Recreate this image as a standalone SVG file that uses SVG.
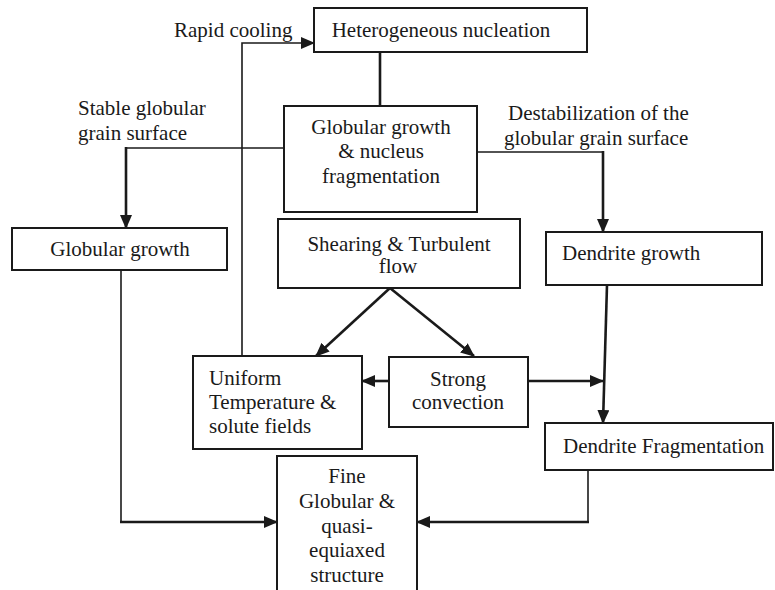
<svg xmlns="http://www.w3.org/2000/svg" width="775" height="590" viewBox="0 0 775 590">
<style>
text{font-family:"Liberation Serif","Times New Roman",serif;font-size:21px;fill:#1a1a1a}
.c{text-anchor:middle}
.box{fill:#fff;stroke:#1a1a1a;stroke-width:2}
.ln{fill:none;stroke:#1a1a1a;stroke-width:1.6}
.thk{fill:none;stroke:#1a1a1a;stroke-width:2.6}
</style>
<defs>
<marker id="ah" markerUnits="userSpaceOnUse" markerWidth="14" markerHeight="12" refX="13" refY="6" orient="auto" viewBox="0 0 14 12">
<path d="M0,0 L14,6 L0,12 z" fill="#1a1a1a"/>
</marker>
</defs>
<rect width="775" height="590" fill="#fff"/>
<g id="connectors">
<polyline class="ln" points="242,356 242,43 314,43" marker-end="url(#ah)"/>
<line class="thk" x1="380" y1="52" x2="380" y2="106"/>
<polyline class="ln" points="285,148 126,148"/>
<line class="thk" x1="126" y1="147" x2="126" y2="228" marker-end="url(#ah)"/>
<polyline class="ln" points="477,152 603,152"/>
<line class="thk" x1="603" y1="151" x2="603" y2="232" marker-end="url(#ah)"/>
<line class="thk" x1="390" y1="288" x2="316" y2="356" marker-end="url(#ah)"/>
<line class="thk" x1="390" y1="288" x2="474" y2="356" marker-end="url(#ah)"/>
<line class="thk" x1="389" y1="381" x2="362" y2="381" marker-end="url(#ah)"/>
<line class="thk" x1="528" y1="381" x2="603" y2="381" marker-end="url(#ah)"/>
<line class="thk" x1="607" y1="285" x2="603" y2="423" marker-end="url(#ah)"/>
<line class="ln" x1="121" y1="270" x2="121" y2="523"/>
<line class="thk" x1="120" y1="522" x2="277" y2="522" marker-end="url(#ah)"/>
<line class="ln" x1="588" y1="470" x2="588" y2="523"/>
<line class="thk" x1="589" y1="522" x2="417" y2="522" marker-end="url(#ah)"/>
</g>
<g id="labels">
<text x="174" y="37">Rapid cooling</text>
<text x="78" y="115">Stable globular</text>
<text x="78" y="140">grain surface</text>
<text x="508" y="120">Destabilization of the</text>
<text x="504" y="145">globular grain surface</text>
</g>
<g id="heterogeneous-nucleation">
<rect class="box" x="314" y="8" width="273" height="44"/>
<text class="c" x="441" y="37">Heterogeneous nucleation</text>
</g>
<g id="globular-growth-nucleus-fragmentation">
<rect class="box" x="284" y="106" width="193" height="106"/>
<text class="c" x="381" y="134">Globular growth</text>
<text class="c" x="381" y="158">&amp; nucleus</text>
<text class="c" x="381" y="183">fragmentation</text>
</g>
<g id="globular-growth">
<rect class="box" x="12" y="228" width="215" height="42"/>
<text class="c" x="120" y="256">Globular growth</text>
</g>
<g id="shearing-turbulent-flow">
<rect class="box" x="278" y="219" width="242" height="69"/>
<text class="c" x="399" y="251">Shearing &amp; Turbulent</text>
<text class="c" x="398" y="273">flow</text>
</g>
<g id="dendrite-growth">
<rect class="box" x="546" y="232" width="216" height="53"/>
<text x="562" y="260">Dendrite growth</text>
</g>
<g id="uniform-temperature">
<rect class="box" x="193" y="356" width="169" height="93"/>
<text x="209" y="385">Uniform</text>
<text x="209" y="409">Temperature &amp;</text>
<text x="209" y="433">solute fields</text>
</g>
<g id="strong-convection">
<rect class="box" x="389" y="357" width="139" height="70"/>
<text class="c" x="458" y="386">Strong</text>
<text class="c" x="458" y="409">convection</text>
</g>
<g id="dendrite-fragmentation">
<rect class="box" x="545" y="423" width="228" height="47"/>
<text x="563" y="453">Dendrite Fragmentation</text>
</g>
<g id="fine-globular-structure">
<rect class="box" x="277" y="456" width="140" height="140"/>
<text class="c" x="347" y="483">Fine</text>
<text class="c" x="347" y="508">Globular &amp;</text>
<text class="c" x="347" y="533">quasi-</text>
<text class="c" x="347" y="557">equiaxed</text>
<text class="c" x="347" y="582">structure</text>
</g>
</svg>
